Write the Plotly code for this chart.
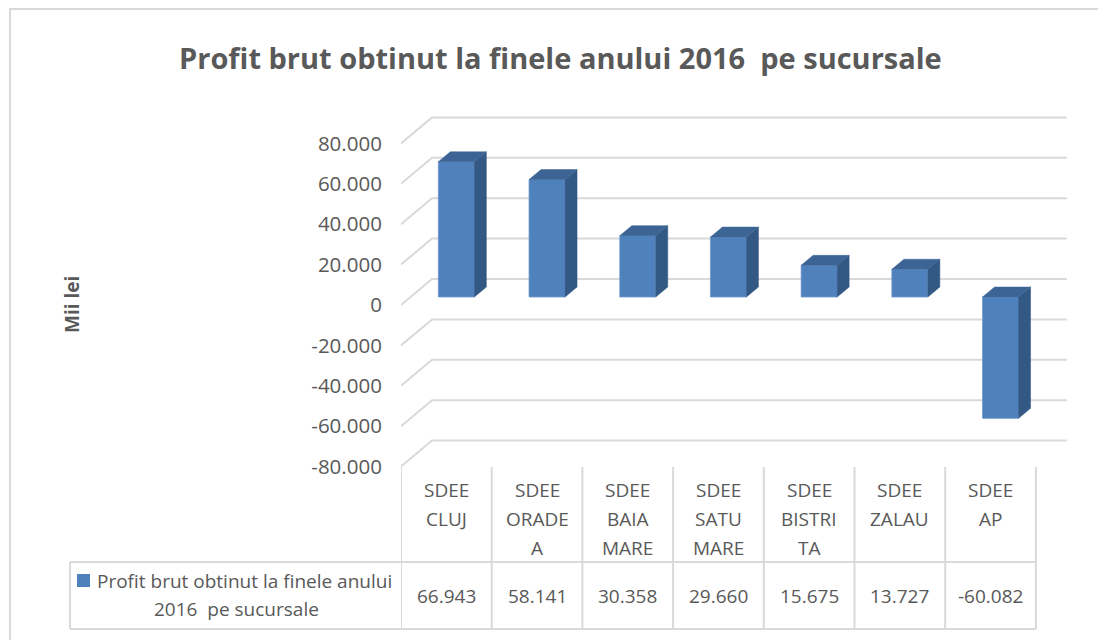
import plotly.graph_objects as go

# ---------------- data ----------------
categories = ["SDEE CLUJ", "SDEE ORADEA", "SDEE BAIA MARE", "SDEE SATU MARE",
              "SDEE BISTRITA", "SDEE ZALAU", "SDEE AP"]
header_lines = [["SDEE", "CLUJ"], ["SDEE", "ORADE", "A"], ["SDEE", "BAIA", "MARE"],
                ["SDEE", "SATU", "MARE"], ["SDEE", "BISTRI", "TA"], ["SDEE", "ZALAU"],
                ["SDEE", "AP"]]
values = [66943, 58141, 30358, 29660, 15675, 13727, -60082]
series_name = "Profit brut obtinut la finele anului 2016  pe sucursale"
legend_lines = ["Profit brut obtinut la finele anului", "2016  pe sucursale"]
y_ticks = [-80000, -60000, -40000, -20000, 0, 20000, 40000, 60000, 80000]
title_text = "Profit brut obtinut la finele anului 2016  pe sucursale"
y_title = "Mii lei"


def fmt(v):
    s = f"{abs(v):,}".replace(",", ".")
    return ("-" if v < 0 else "") + s


# ---------------- geometry (reference pixels) ----------------
W, H = 1106, 640
OFF = 8  # page body margin
L, R, T, B = 401, 1071, 100, 470
PX_CAT = 90.7
PX_UNIT = 40.4 / 20000
Y0 = 305
n = len(categories)

x_range = [-0.5, -0.5 + (R - L) / PX_CAT]
y_range = [-(B - Y0) / PX_UNIT, (Y0 - T) / PX_UNIT]

bar_dx = 10 / PX_CAT
bar_dy = 8 / PX_UNIT
bar_w = 36 / PX_CAT
dep_dx = 12 / PX_CAT
dep_dy = 10 / PX_UNIT
back_dx = 31 / PX_CAT
back_dy = 26 / PX_UNIT


def px_x(p):
    return (p - L) / (R - L)


def px_y(p):
    return (B - p) / (B - T)


FONT = "Open Sans"
GREY = "#595959"
GRID = "#d9d9d9"
FRONT = "#4f81bd"
SIDE = "#335884"
TOP = "#3c6494"

fig = go.Figure()

shapes = []
annotations = []

# gridlines (back wall + floor diagonals), drawn below the bars
for v in y_ticks:
    path = (f"M {-0.5},{v} L {-0.5 + back_dx},{v + back_dy} "
            f"L {n - 0.5 + back_dx},{v + back_dy}")
    shapes.append(dict(type="path", xref="x", yref="y", path=path, layer="below",
                       line=dict(color=GRID, width=2)))

# bars: front faces
xc = [i + bar_dx for i in range(n)]
fig.add_trace(go.Bar(x=xc, y=values, base=bar_dy, width=bar_w,
                     marker=dict(color=FRONT, line=dict(width=0.8, color="#6f98cc")),
                     name=series_name, showlegend=False))

# side + top faces
for i, v in enumerate(values):
    lo = bar_dy + min(v, 0)
    hi = bar_dy + max(v, 0)
    xl = xc[i] - bar_w / 2
    xr = xc[i] + bar_w / 2
    fig.add_trace(go.Scatter(x=[xr, xr, xr + dep_dx, xr + dep_dx, xr],
                             y=[lo, hi, hi + dep_dy, lo + dep_dy, lo],
                             fill="toself", fillcolor=SIDE, mode="lines",
                             line=dict(color=SIDE, width=0.5), hoverinfo="skip", showlegend=False))
    fig.add_trace(go.Scatter(x=[xl, xr, xr + dep_dx, xl + dep_dx, xl],
                             y=[hi, hi, hi + dep_dy, hi + dep_dy, hi],
                             fill="toself", fillcolor=TOP, mode="lines",
                             line=dict(color=TOP, width=0.5), hoverinfo="skip", showlegend=False))

# outer chart border
shapes.append(dict(type="rect", xref="paper", yref="paper",
                   x0=px_x(10), x1=px_x(1125), y0=px_y(9), y1=px_y(660),
                   line=dict(color=GRID, width=2)))

# data table lines
top_tab = px_y(467)
mid_tab = px_y(562)
bot_tab = px_y(629)
for k in range(n + 1):
    shapes.append(dict(type="line", xref="x", yref="paper", x0=k - 0.5, x1=k - 0.5,
                       y0=top_tab, y1=bot_tab, line=dict(color=GRID, width=2)))
shapes.append(dict(type="line", xref="paper", yref="paper", x0=px_x(70), x1=px_x(70),
                   y0=mid_tab, y1=bot_tab, line=dict(color=GRID, width=2)))
shapes.append(dict(type="line", xref="paper", yref="paper", x0=px_x(70), x1=px_x(1036),
                   y0=mid_tab, y1=mid_tab, line=dict(color=GRID, width=2)))
shapes.append(dict(type="line", xref="paper", yref="paper", x0=px_x(70), x1=px_x(1036),
                   y0=bot_tab, y1=bot_tab, line=dict(color=GRID, width=2)))

# legend key
shapes.append(dict(type="rect", xref="paper", yref="paper", x0=px_x(77), x1=px_x(90),
                   y0=px_y(587), y1=px_y(574), fillcolor=FRONT, line=dict(width=0)))

TS = 19
# header text
for i, lines in enumerate(header_lines):
    for j, t in enumerate(lines):
        annotations.append(dict(x=i, xref="x", y=px_y(490 + 29 * j), yref="paper",
                                text=t, showarrow=False, xanchor="center", yanchor="middle",
                                font=dict(family=FONT, size=TS, color=GREY)))
# values row
for i, v in enumerate(values):
    annotations.append(dict(x=i, xref="x", y=px_y(596), yref="paper", text=fmt(v),
                            showarrow=False, xanchor="center", yanchor="middle",
                            font=dict(family=FONT, size=TS, color=GREY)))
# legend label
annotations.append(dict(x=px_x(95), xref="paper", y=px_y(581), yref="paper", text=legend_lines[0],
                        showarrow=False, xanchor="left", yanchor="middle",
                        font=dict(family=FONT, size=TS, color=GREY)))
annotations.append(dict(x=px_x(236), xref="paper", y=px_y(609), yref="paper", text=legend_lines[1],
                        showarrow=False, xanchor="center", yanchor="middle",
                        font=dict(family=FONT, size=TS, color=GREY)))
# title
annotations.append(dict(x=px_x(560), xref="paper", y=px_y(57), yref="paper", text=f"<b>{title_text}</b>",
                        showarrow=False, xanchor="center", yanchor="middle",
                        font=dict(family=FONT, size=29, color=GREY)))
# y axis title
annotations.append(dict(x=px_x(72), xref="paper", y=px_y(305), yref="paper", text=f"<b>{y_title}</b>",
                        showarrow=False, xanchor="center", yanchor="middle", textangle=-90,
                        font=dict(family=FONT, size=19, color=GREY)))

fig.update_layout(
    width=W, height=H,
    margin=dict(l=L - OFF, r=W - (R - OFF), t=T - OFF, b=H - (B - OFF), pad=0),
    paper_bgcolor="white", plot_bgcolor="white",
    xaxis=dict(range=x_range, showgrid=False, zeroline=False, showticklabels=False,
               showline=False, fixedrange=True),
    yaxis=dict(range=y_range, showgrid=False, zeroline=False, showline=False,
               tickvals=y_ticks, ticktext=[fmt(v) for v in y_ticks],
               ticks="outside", ticklen=14, tickcolor="rgba(0,0,0,0)",
               tickfont=dict(family=FONT, size=20.5, color=GREY), fixedrange=True),
    shapes=shapes, annotations=annotations,
    showlegend=False,
)

fig.write_html("out.html")
